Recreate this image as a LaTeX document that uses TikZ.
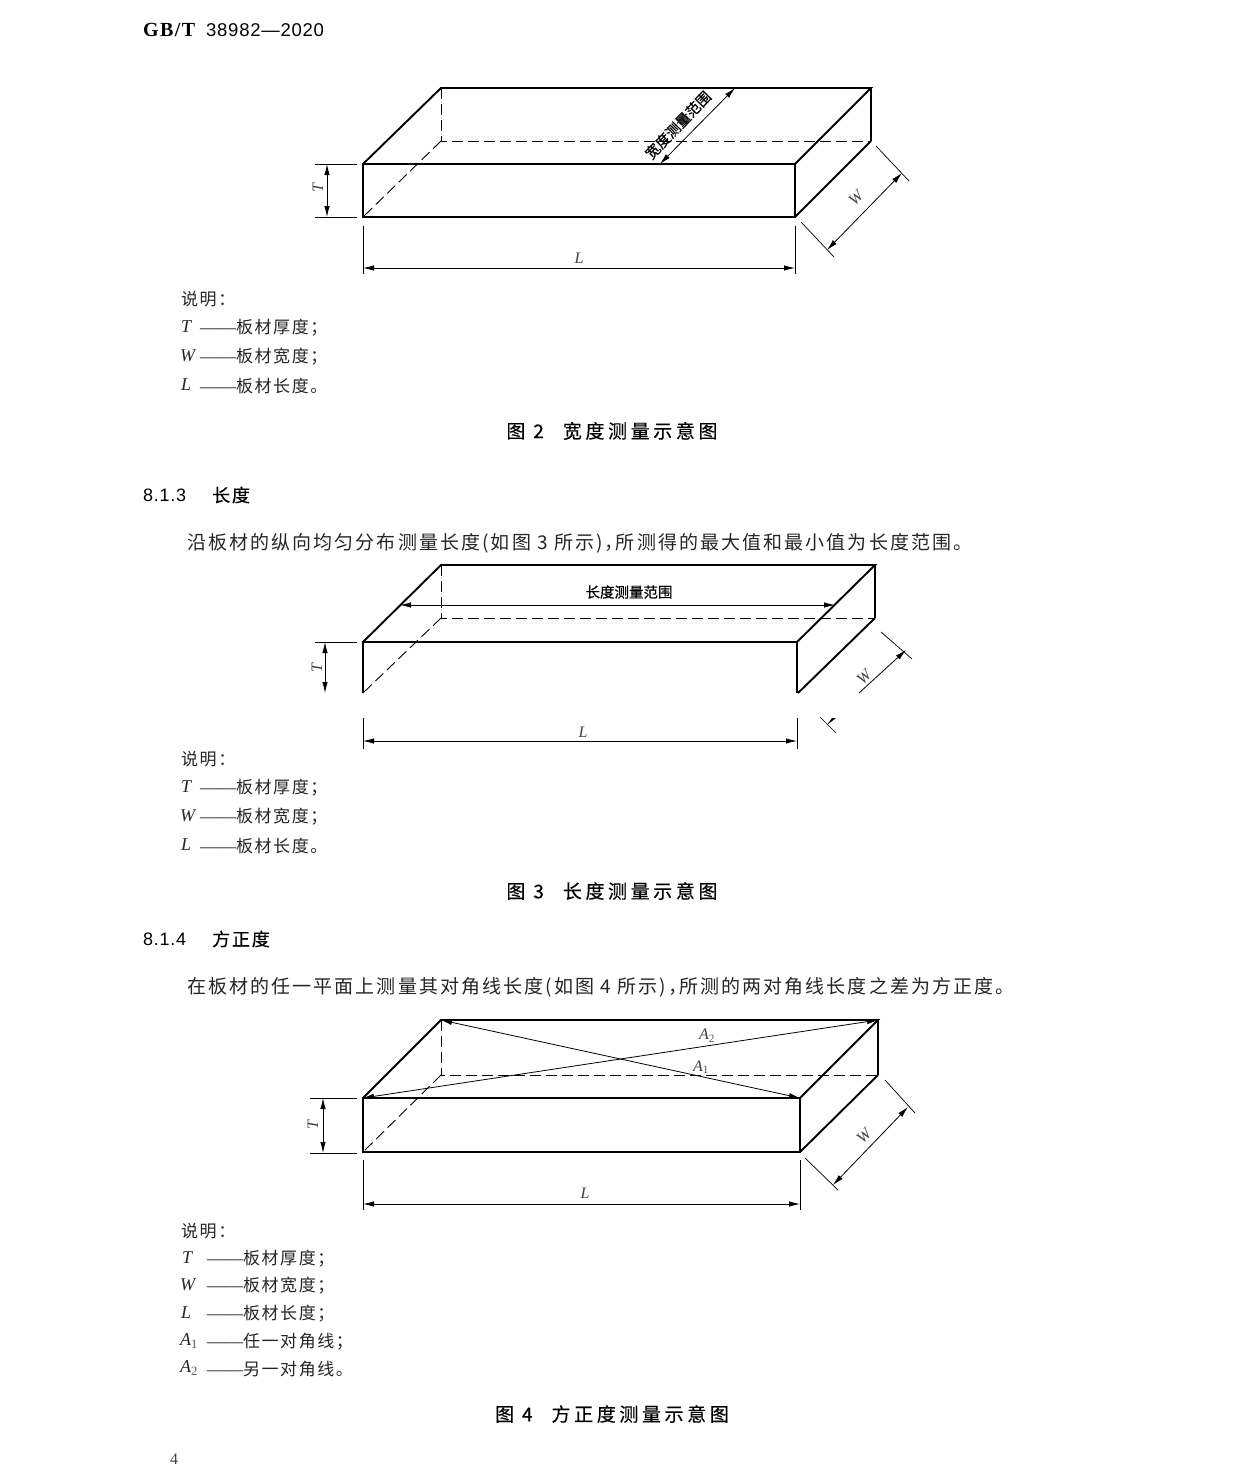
\documentclass[tikz,border=0pt]{standalone}
\usepackage{fontspec}
\setmainfont{Liberation Serif}
\newfontfamily\cjk{Noto Sans CJK SC}
\newfontfamily\bodyf{Noto Sans CJK SC}[LetterSpace=11]
\newfontfamily\legf{Noto Sans CJK SC}[LetterSpace=9]
\newfontfamily\hei{Noto Sans CJK SC}[FakeBold=0.6]
\newfontfamily\capf{Noto Sans CJK SC}[FakeBold=0.4,LetterSpace=19]
\newfontfamily\secf{Noto Sans CJK SC}[FakeBold=0.4,LetterSpace=10]
\newfontfamily\num{Liberation Sans}
\newfontfamily\numw{Liberation Sans}[LetterSpace=4]
\newfontfamily\hdf{Liberation Serif}[LetterSpace=7]
\usetikzlibrary{arrows.meta}
\tikzset{
  x=1pt,y=-1pt,
  edge/.style={line width=1.9pt,line join=miter},
  thinedge/.style={line width=1.2pt},
  hid/.style={line width=.9pt,dash pattern=on 11pt off 5pt},
  ext/.style={line width=.7pt},
  dim/.style={line width=.8pt,{Latex[length=11pt,width=5.5pt]}-{Latex[length=11pt,width=5.5pt]}},
  dimend/.style={line width=.8pt,-{Latex[length=11pt,width=5.5pt]}},
  sym/.style={font=\fontsize{16}{16}\selectfont\itshape,text=black!75,inner sep=0pt},
  body/.style={anchor=west,inner sep=0pt,font=\fontsize{19}{19}\selectfont\bodyf,text=black!85},
  leg/.style={anchor=west,inner sep=0pt,font=\fontsize{17}{17}\selectfont\legf,text=black!85},
  legsym/.style={anchor=west,inner sep=0pt,font=\fontsize{18}{18}\selectfont\itshape,text=black!85},
  cap1/.style={anchor=center,inner sep=0pt,font=\fontsize{19}{19}\selectfont\capf},
  sec/.style={anchor=west,inner sep=0pt,font=\fontsize{18}{18}\selectfont\secf},
  rng/.style={font=\fontsize{14.5}{14.5}\selectfont\hei,inner sep=0pt},
}
\newcommand{\dsh}{{\rmfamily\fontsize{18}{18}\selectfont——}}
\newcommand{\subn}[1]{\textsubscript{\textup{\color{black!65}#1}}}
\begin{document}
\begin{tikzpicture}
\useasboundingbox (0,0) rectangle (1240,1476);
\fill[white] (0,0) rectangle (1240,1476);

% header
\node[anchor=west,inner sep=0pt] (hd) at (143,30) {\fontsize{20}{20}\selectfont{\hdf\bfseries GB/T}};
\node[anchor=west,inner sep=0pt] (hd2) at (206,30) {\fontsize{18.5}{18.5}\selectfont\numw 38982—2020};

%%% FIGURE 2
\coordinate (a1) at (363,164); \coordinate (a2) at (795,164);
\coordinate (a3) at (795,217); \coordinate (a4) at (363,217);
\coordinate (a5) at (441,88);  \coordinate (a6) at (871,88);
\coordinate (a7) at (871,141); \coordinate (a8) at (441,141);
\draw[hid] (a5) -- (a8) -- (a7);
\draw[hid] (a8) -- (a4);
\draw[thinedge] (a6) -- (a7);
\draw[edge] (a1) -- (a2) -- (a3) -- (a4) -- cycle;
\draw[edge] (a1) -- (a5) -- (a6) -- (a2);
\draw[edge] (a3) -- (a7);
\coordinate (a9) at (315,164); \coordinate (a10) at (357,164);
\coordinate (a11) at (315,217); \coordinate (a12) at (357,217);
\draw[ext] (a9) -- (a10); \draw[ext] (a11) -- (a12);
\coordinate (at1) at (327,164); \coordinate (at2) at (327,217);
\draw[dim] (at1) -- (at2);
\node[sym,rotate=90] (aT) at (318,188) {T};
\coordinate (al1) at (363,226); \coordinate (al2) at (363,274);
\coordinate (al3) at (795,226); \coordinate (al4) at (795,274);
\draw[ext] (al1) -- (al2); \draw[ext] (al3) -- (al4);
\coordinate (al5) at (363,268); \coordinate (al6) at (795,268);
\draw[dim] (al5) -- (al6);
\node[sym] (aL) at (579,258) {L};
\coordinate (aw1) at (876,146); \coordinate (aw2) at (909,181);
\coordinate (aw3) at (801,222); \coordinate (aw4) at (834,257);
\draw[ext] (aw1) -- (aw2); \draw[ext] (aw3) -- (aw4);
\coordinate (aw5) at (827,250); \coordinate (aw6) at (902,173);
\draw[dim] (aw5) -- (aw6);
\node[sym,rotate=45] (aW) at (856,198) {W};
\coordinate (ar1) at (660,164); \coordinate (ar2) at (735,88);
\draw[dim] (ar1) -- (ar2);
\node[rng,rotate=46] (aR) at (678,125) {宽度测量范围};

\node[leg] (l1) at (181,299) {说明：};
\node[legsym] (l2a) at (181,327) {T};
\node[leg] (l2) at (200,328) {\dsh 板材厚度；};
\node[legsym] (l3a) at (180,356) {W};
\node[leg] (l3) at (200,357) {\dsh 板材宽度；};
\node[legsym] (l4a) at (181,385) {L};
\node[leg] (l4) at (200,386) {\dsh 板材长度。};
\node[cap1] (c2) at (612,431) {图 2\quad 宽度测量示意图};

\node[sec] (s1) at (143,495) {{\numw 8.1.3}};
\node[sec] (s1b) at (212,495) {长度};
\node[body] (p1) at (187,543) {沿板材的纵向均匀分布测量长度(如图 3 所示)，\hspace{-8pt}所测得的最大值和最小值为长度范围。};

%%% FIGURE 3
\coordinate (b1) at (363,642); \coordinate (b2) at (797,642);
\coordinate (b3) at (797,693); \coordinate (b4) at (363,693);
\coordinate (b5) at (441,565); \coordinate (b6) at (875,565);
\coordinate (b7) at (875,618); \coordinate (b8) at (441,618);
\draw[hid] (b5) -- (b8) -- (b7);
\draw[hid] (b8) -- (b4);
\draw[thinedge] (b6) -- (b7);
\draw[edge] (b4) -- (b1) -- (b2) -- (b3);
\draw[edge] (b1) -- (b5) -- (b6) -- (b2);
\coordinate (b9) at (798,693);
\draw[edge] (b9) -- (b7);
\coordinate (bt0) at (315,642); \coordinate (bt1) at (357,642);
\draw[ext] (bt0) -- (bt1);
\coordinate (bt2) at (325,642); \coordinate (bt3) at (325,693);
\draw[dim] (bt2) -- (bt3);
\node[sym,rotate=90] (bT) at (317,668) {T};
\coordinate (bl1) at (363,718); \coordinate (bl2) at (363,749);
\coordinate (bl3) at (797,718); \coordinate (bl4) at (797,749);
\draw[ext] (bl1) -- (bl2); \draw[ext] (bl3) -- (bl4);
\coordinate (bl5) at (363,741); \coordinate (bl6) at (797,741);
\draw[dim] (bl5) -- (bl6);
\node[sym] (bL) at (583,732) {L};
\coordinate (bw1) at (881,632); \coordinate (bw2) at (912,659);
\draw[ext] (bw1) -- (bw2);
\coordinate (bw3) at (859,693); \coordinate (bw4) at (906,650);
\draw[dimend] (bw3) -- (bw4);
\node[sym,rotate=45] (bW) at (864,677) {W};
\coordinate (bw5) at (820,717); \coordinate (bw6) at (836,733);
\draw[ext] (bw5) -- (bw6);
\fill (827,725) -- (832,718) -- (836,718) -- cycle;
\coordinate (br1) at (400,605); \coordinate (br2) at (835,605);
\draw[dim] (br1) -- (br2);
\node[rng] (bR) at (629,592) {长度测量范围};

\node[leg] (m1) at (181,759) {说明：};
\node[legsym] (m2a) at (181,787) {T};
\node[leg] (m2) at (200,788) {\dsh 板材厚度；};
\node[legsym] (m3a) at (180,816) {W};
\node[leg] (m3) at (200,817) {\dsh 板材宽度；};
\node[legsym] (m4a) at (181,845) {L};
\node[leg] (m4) at (200,846) {\dsh 板材长度。};
\node[cap1] (c3) at (612,891) {图 3\quad 长度测量示意图};

\node[sec] (s2) at (143,939) {{\numw 8.1.4}};
\node[sec] (s2b) at (212,939) {方正度};
\node[body] (p2) at (187,987) {在板材的任一平面上测量其对角线长度(如图 4 所示)，\hspace{-8pt}所测的两对角线长度之差为方正度。};

%%% FIGURE 4
\coordinate (c1) at (363,1098); \coordinate (c2a) at (800,1098);
\coordinate (c3a) at (800,1152); \coordinate (c4) at (363,1152);
\coordinate (c5) at (441,1020); \coordinate (c6) at (878,1020);
\coordinate (c7) at (878,1075); \coordinate (c8) at (441,1075);
\draw[hid] (c5) -- (c8) -- (c7);
\draw[hid] (c8) -- (c4);
\draw[thinedge] (c6) -- (c7);
\draw[edge] (c1) -- (c2a) -- (c3a) -- (c4) -- cycle;
\draw[edge] (c1) -- (c5) -- (c6) -- (c2a);
\draw[edge] (c3a) -- (c7);
\draw[dim] (c5) -- (c2a);
\draw[dim] (c1) -- (c6);
\node[sym] (cA2) at (707,1036) {A\subn{2}};
\node[sym] (cA1) at (701,1067) {A\subn{1}};
\coordinate (ct0) at (310,1098); \coordinate (ct1) at (357,1098);
\coordinate (ct2) at (310,1153); \coordinate (ct3) at (357,1153);
\draw[ext] (ct0) -- (ct1); \draw[ext] (ct2) -- (ct3);
\coordinate (ct4) at (323,1098); \coordinate (ct5) at (323,1153);
\draw[dim] (ct4) -- (ct5);
\node[sym,rotate=90] (cT) at (313,1125) {T};
\coordinate (cl1) at (363,1160); \coordinate (cl2) at (363,1210);
\coordinate (cl3) at (800,1160); \coordinate (cl4) at (800,1210);
\draw[ext] (cl1) -- (cl2); \draw[ext] (cl3) -- (cl4);
\coordinate (cl5) at (363,1204); \coordinate (cl6) at (800,1204);
\draw[dim] (cl5) -- (cl6);
\node[sym] (cL) at (585,1193) {L};
\coordinate (cw1) at (885,1080); \coordinate (cw2) at (915,1113);
\coordinate (cw3) at (805,1158); \coordinate (cw4) at (838,1190);
\draw[ext] (cw1) -- (cw2); \draw[ext] (cw3) -- (cw4);
\coordinate (cw5) at (833,1185); \coordinate (cw6) at (908,1107);
\draw[dim] (cw5) -- (cw6);
\node[sym,rotate=45] (cW) at (864,1136) {W};

\node[leg] (n1) at (181,1231) {说明：};
\node[legsym] (n2a) at (182,1258) {T};
\node[leg] (n2) at (207,1259) {\dsh 板材厚度；};
\node[legsym] (n3a) at (180,1285) {W};
\node[leg] (n3) at (207,1286) {\dsh 板材宽度；};
\node[legsym] (n4a) at (181,1313) {L};
\node[leg] (n4) at (207,1314) {\dsh 板材长度；};
\node[legsym] (n5a) at (180,1341) {A\subn{1}};
\node[leg] (n5) at (207,1342) {\dsh 任一对角线；};
\node[legsym] (n6a) at (180,1368) {A\subn{2}};
\node[leg] (n6) at (207,1369) {\dsh 另一对角线。};
\node[cap1] (c4n) at (612,1414) {图 4\quad 方正度测量示意图};
\node[anchor=west,inner sep=0pt,font=\fontsize{16}{16}\selectfont,text=black!75] (pg) at (170,1459) {4};
\end{tikzpicture}
\end{document}
